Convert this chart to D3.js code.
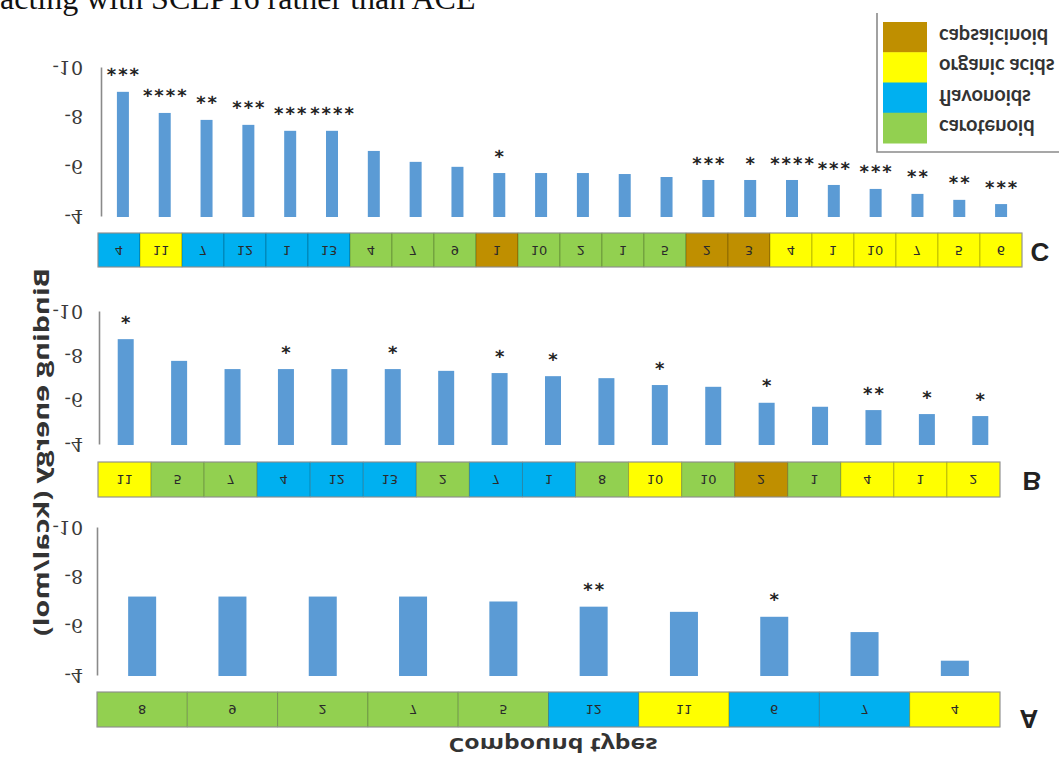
<!DOCTYPE html>
<html>
<head>
<meta charset="utf-8">
<script src="https://cdn.jsdelivr.net/npm/d3@7"></script>
<style>
  body { margin: 0; background: #fff; }
  svg { display: block; }
</style>
</head>
<body>
<svg id="chart" width="1059" height="758"></svg>
<script>
// ---- data ----
const classNames  = ["carotenoid", "flavonoids", "organic acids", "capsaicinoid"];
const classColors = ["#92D050", "#00B0F0", "#FFFF00", "#BF8F00"];
const legendOrder = ["capsaicinoid", "organic acids", "flavonoids", "carotenoid"];
const yTicks = [-10, -8, -6, -4];

// panel C
const cLabels = [4, 11, 7, 12, 1, 13, 4, 7, 9, 1, 10, 2, 1, 5, 2, 3, 4, 1, 10, 7, 5, 6];
const cTypes = ["flavonoids", "organic acids", "flavonoids", "flavonoids", "flavonoids", "flavonoids",
  "carotenoid", "carotenoid", "carotenoid", "capsaicinoid", "carotenoid", "carotenoid", "carotenoid",
  "carotenoid", "capsaicinoid", "capsaicinoid", "organic acids", "organic acids", "organic acids",
  "organic acids", "organic acids", "organic acids"];
const cEnergy = [-9.0, -8.15, -7.87, -7.67, -7.43, -7.43, -6.62, -6.18, -5.98, -5.73, -5.73,
  -5.73, -5.69, -5.57, -5.45, -5.45, -5.45, -5.25, -5.09, -4.89, -4.65, -4.48];
const cStars = ["***", "****", "**", "***", "***", "****", "", "", "", "*", "", "", "", "",
  "***", "*", "****", "***", "***", "**", "**", "***"];

// panel B
const bLabels = [11, 5, 7, 4, 12, 13, 2, 7, 1, 8, 10, 10, 2, 1, 4, 1, 2];
const bTypes = ["organic acids", "carotenoid", "carotenoid", "flavonoids", "flavonoids", "flavonoids",
  "carotenoid", "flavonoids", "flavonoids", "carotenoid", "organic acids", "carotenoid",
  "capsaicinoid", "carotenoid", "organic acids", "organic acids", "organic acids"];
const bEnergy = [-8.73, -7.75, -7.38, -7.38, -7.38, -7.38, -7.3, -7.2, -7.06, -6.97, -6.66,
  -6.58, -5.86, -5.68, -5.53, -5.35, -5.26];
const bStars = ["*", "", "", "*", "", "*", "", "*", "*", "", "*", "", "*", "", "**", "*", "*"];

// panel A
const aLabels = [8, 9, 2, 7, 5, 12, 11, 6, 7, 4];
const aTypes = ["carotenoid", "carotenoid", "carotenoid", "carotenoid", "carotenoid", "flavonoids",
  "organic acids", "flavonoids", "flavonoids", "organic acids"];
const aEnergy = [-7.18, -7.18, -7.18, -7.18, -6.98, -6.77, -6.56, -6.36, -5.74, -4.58];
const aStars = ["", "", "", "", "", "**", "", "*", "", ""];

// ---- layout ----
const panels = [
  { name: "C", labels: cLabels, types: cTypes, energy: cEnergy, stars: cStars,
    yTop: 67, yBase: 216, axisX: 101, barRange: [102, 1022], barW: 12,
    stripRange: [98, 1022], stripY: 233, stripH: 34, letter: [1040, 252] },
  { name: "B", labels: bLabels, types: bTypes, energy: bEnergy, stars: bStars,
    yTop: 311, yBase: 444, axisX: 99, barRange: [99, 1007], barW: 16,
    stripRange: [98, 1000], stripY: 462, stripH: 35, letter: [1032, 481] },
  { name: "A", labels: aLabels, types: aTypes, energy: aEnergy, stars: aStars,
    yTop: 527, yBase: 675, axisX: 97, barRange: [97, 1000], barW: 28,
    stripRange: [97, 1000], stripY: 692, stripH: 35, letter: [1029, 719] }
];

const color = d3.scaleOrdinal().domain(classNames).range(classColors);
const svg = d3.select("#chart");

// every label on this figure is mirrored top-to-bottom
function mirroredText(parent, x, y, str) {
  return parent.append("text")
    .attr("transform", `translate(${x},${y}) scale(1,-1)`)
    .attr("dominant-baseline", "central")
    .text(str);
}

// running text line above the figure
svg.append("text")
  .attr("x", 0).attr("y", 9)
  .attr("font-family", "'Liberation Serif', 'Times New Roman', serif")
  .attr("font-size", 32)
  .attr("fill", "#111")
  .text("acting with SCLP16 rather than ACE");

const starSize = 18;

panels.forEach(p => {
  const g = svg.append("g").attr("class", "panel-" + p.name);
  const idx = d3.range(p.energy.length);

  const y = d3.scaleLinear().domain([-4, -10]).range([p.yBase, p.yTop]);
  const x = d3.scaleBand().domain(idx).range(p.barRange);
  const xs = d3.scaleBand().domain(idx).range(p.stripRange);

  // y axis
  const ax = g.append("g")
    .attr("transform", `translate(${p.axisX},0)`)
    .call(d3.axisLeft(y).tickValues(yTicks).tickSize(0).tickSizeOuter(0)
      .tickPadding(p.axisX - 83).tickFormat(d => String(d)));
  ax.select(".domain").attr("stroke", "#8a8a8a").attr("stroke-width", 1.6);
  ax.selectAll(".tick text")
    .attr("dy", null)
    .attr("dominant-baseline", "central")
    .attr("transform", "scale(1,-1)")
    .attr("font-family", "'DejaVu Serif', 'Liberation Serif', serif")
    .attr("font-size", 19)
    .attr("fill", "#3a3a3a");

  // bars
  g.append("g").selectAll("rect")
    .data(idx).join("rect")
    .attr("x", i => x(i) + x.bandwidth() / 2 - p.barW / 2)
    .attr("width", p.barW)
    .attr("y", i => y(p.energy[i]))
    .attr("height", i => y(-4) - y(p.energy[i]) + 1)
    .attr("fill", "#5B9BD5");

  // significance marks
  const sg = g.append("g")
    .attr("font-family", "'DejaVu Sans', sans-serif")
    .attr("font-weight", "bold")
    .attr("font-size", starSize)
    .attr("fill", "#222")
    .attr("text-anchor", "middle");
  idx.filter(i => p.stars[i]).forEach(i => {
    sg.append("text")
      .attr("transform", `translate(${x(i) + x.bandwidth() / 2 + 1},${y(p.energy[i]) - 18}) scale(1,-1)`)
      .attr("y", starSize * 0.58)
      .attr("letter-spacing", 2)
      .text(p.stars[i]);
  });

  // compound-type strip
  const strip = g.append("g");
  strip.selectAll("rect")
    .data(idx).join("rect")
    .attr("x", i => xs(i))
    .attr("y", p.stripY)
    .attr("width", xs.bandwidth())
    .attr("height", p.stripH)
    .attr("fill", i => color(p.types[i]))
    .attr("stroke", "rgba(0,0,0,0.22)")
    .attr("stroke-width", 1);
  strip.append("rect")
    .attr("x", p.stripRange[0]).attr("y", p.stripY)
    .attr("width", p.stripRange[1] - p.stripRange[0]).attr("height", p.stripH)
    .attr("fill", "none").attr("stroke", "#9a9a9a").attr("stroke-width", 1);
  const lg = strip.append("g")
    .attr("font-family", "'DejaVu Sans', sans-serif")
    .attr("font-size", 13)
    .attr("fill", "#2a2a2a")
    .attr("text-anchor", "middle");
  idx.forEach(i => {
    mirroredText(lg, xs(i) + xs.bandwidth() / 2, p.stripY + p.stripH / 2, p.labels[i]);
  });

  // panel letter
  mirroredText(g, p.letter[0], p.letter[1], p.name)
    .attr("text-anchor", "middle")
    .attr("font-family", "'Liberation Sans', Arial, sans-serif")
    .attr("font-weight", "bold")
    .attr("font-size", 26)
    .attr("fill", "#222");
});

// axis titles
mirroredText(svg, 553, 745, "Compound types")
  .attr("text-anchor", "middle")
  .attr("font-family", "'Open Sans', sans-serif")
  .attr("font-weight", "bold")
  .attr("font-size", 19)
  .attr("fill", "#333")
  .attr("textLength", 209)
  .attr("lengthAdjust", "spacingAndGlyphs");

svg.append("text")
  .attr("transform", "translate(41,452) scale(1,-1) rotate(-90)")
  .attr("text-anchor", "middle")
  .attr("dominant-baseline", "central")
  .attr("font-family", "'Open Sans', sans-serif")
  .attr("font-weight", "bold")
  .attr("font-size", 21)
  .attr("fill", "#333")
  .attr("textLength", 368)
  .attr("lengthAdjust", "spacingAndGlyphs")
  .text("Binding energy (kcal/mol)");

// legend
const leg = svg.append("g");
leg.append("path")
  .attr("d", "M877,13V152H1059")
  .attr("fill", "none").attr("stroke", "#8a8a8a").attr("stroke-width", 1.6);
const legY = d3.scaleBand().domain(legendOrder).range([22, 143]);
leg.selectAll("rect")
  .data(legendOrder).join("rect")
  .attr("x", 883).attr("width", 44)
  .attr("y", d => legY(d)).attr("height", legY.bandwidth() + 0.5)
  .attr("fill", d => color(d));
const lt = leg.append("g")
  .attr("font-family", "Lato, sans-serif")
  .attr("font-weight", "bold")
  .attr("font-size", 20)
  .attr("fill", "#333");
legendOrder.forEach(d => {
  mirroredText(lt, 939, legY(d) + legY.bandwidth() / 2, d);
});
</script>
</body>
</html>
